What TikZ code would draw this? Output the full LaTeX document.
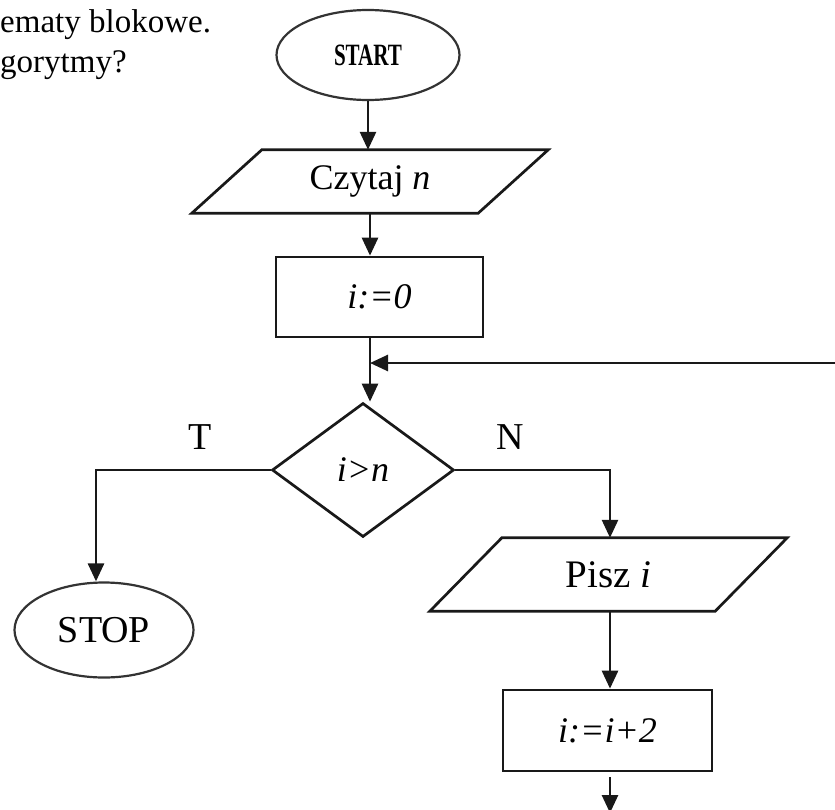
\documentclass[tikz,border=0pt]{standalone}
\usepackage{fontspec}
\setmainfont{Liberation Serif}
\usetikzlibrary{shapes.geometric,arrows.meta,calc}
\newcommand\drawio[2]{\draw[line, line join=miter] ($(#1.north west)+(#2,0)$) -- ($(#1.north east)+(#2,0)$) -- ($(#1.south east)-(#2,0)$) -- ($(#1.south west)-(#2,0)$) -- cycle;}
\begin{document}
\begin{tikzpicture}[x=1pt,y=-1pt,
  line/.style={line width=2.7pt,draw=black!90},
  arr/.style={line, -{Triangle[length=18pt,width=16pt]}},
  term/.style={ellipse, draw=black!80, line width=2.2pt, inner sep=0pt},
  proc/.style={rectangle, draw=black!90, line width=2.7pt, inner sep=0pt},
  iobody/.style={rectangle, inner sep=0pt},
  decis/.style={diamond, draw=black!90, line width=2.7pt, inner sep=0pt},
  lbl/.style={inner sep=0pt, font=\fontsize{38}{40}\selectfont},
  txt/.style={font=\fontsize{36}{40}\selectfont},
  head/.style={anchor=base west, inner sep=0pt, font=\fontsize{33}{38}\selectfont},
]
\useasboundingbox (0,0) rectangle (835,809);

% heading fragments
\node[head] (h1) at (0,32) {ematy blokowe.};
\node[head] (h2) at (0,72) {gorytmy?};

% nodes
\node[term, minimum width=183, minimum height=90, font=\fontsize{31}{33}\selectfont] (start) at (368,55) {\scalebox{0.68}[1]{\textbf{START}}};
\node[iobody, minimum width=286, minimum height=63, txt] (czytaj) at (370,181.5) {Czytaj \textit{n}};
\drawio{czytaj}{35}
\node[proc, minimum width=207, minimum height=80, txt] (init) at (379.5,297) {\textit{i:=0}};
\coordinate (junction) at (370,363);
\coordinate (loopin) at (836,363);
\node[decis, minimum width=182, minimum height=134, shape aspect=1.36, txt] (dec) at (363,470) {\textit{i>n}};
\coordinate (tc) at (96,470);
\coordinate (nc) at (610,470);
\node[term, minimum width=179, minimum height=95, font=\fontsize{38}{40}\selectfont] (stop) at (104,630) {STOP};
\node[iobody, minimum width=285, minimum height=73, font=\fontsize{39}{42}\selectfont] (pisz) at (608.5,574.5) {Pisz \textit{i}};
\drawio{pisz}{36}
\node[proc, minimum width=209, minimum height=81, txt] (inc) at (607.5,730.5) {\textit{i:=i+2}};
\coordinate (out1) at (610,777);
\coordinate (out2) at (610,813);

% labels
\node[lbl] (tl) at (200,437) {T};
\node[lbl] (nl) at (510,437) {N};

% connectors
\draw[arr] (start.south) -- (start.south |- czytaj.north);
\draw[arr] (czytaj.south) -- (czytaj.south |- init.north);
\draw[arr] (junction |- init.south) -- (junction) -- (junction |- dec.north);
\draw[arr] (loopin) -- (junction);
\draw[arr] (dec.west) -- (tc) -- (tc |- stop.north);
\draw[arr] (dec.east) -- (nc) -- (nc |- pisz.north);
\draw[arr] (nc |- pisz.south) -- (nc |- inc.north);
\draw[arr] (out1) -- (out2);
\end{tikzpicture}
\end{document}
